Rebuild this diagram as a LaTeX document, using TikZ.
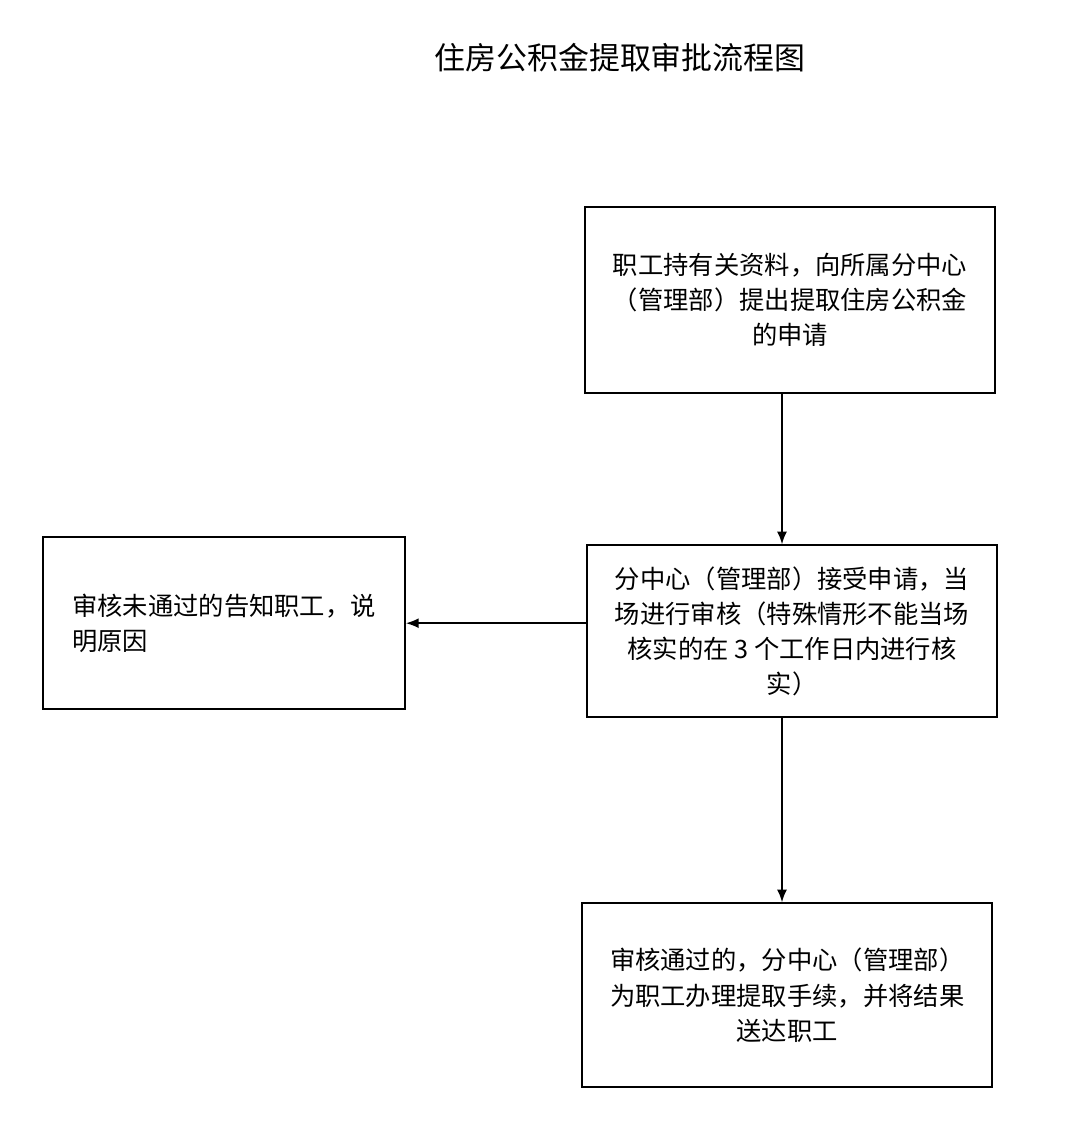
\documentclass[tikz,border=0pt]{standalone}
\usepackage{fontspec}
\setmainfont{Noto Sans CJK SC}
\usetikzlibrary{arrows.meta}

\begin{document}
\begin{tikzpicture}[thick,
    stepbox/.style={draw, rectangle, line width=1.2pt, font=\fontsize{18}{25}\selectfont},
    flow/.style={-{Latex[length=9pt,width=7pt]}, line width=1.2pt}]
    \useasboundingbox[fill=white] (0,0) rectangle (27,-28.6);

    \coordinate (T) at (15.5, -1.45);
    \coordinate (P1) at (19.75, -7.5);
    \coordinate (P2) at (19.8, -15.78);
    \coordinate (P3) at (5.6, -15.58);
    \coordinate (P4) at (19.68, -24.88);

%labels
    \node (title) at (T) {\fontsize{22}{26}\selectfont 住房公积金提取审批流程图};

    \node[stepbox, minimum width=10.25cm, minimum height=4.65cm, align=center] (apply) at (P1)
        {职工持有关资料，向所属分中心\\（管理部）提出提取住房公积金\\的申请};
    \node[stepbox, minimum width=10.25cm, minimum height=4.3cm, align=center] (check) at (P2)
        {分中心（管理部）接受申请，当\\场进行审核（特殊情形不能当场\\核实的在 3 个工作日内进行核\\实）};
    \node[stepbox, minimum width=9.05cm, minimum height=4.3cm, align=left] (reject) at (P3)
        {审核未通过的告知职工，说\\明原因};
    \node[stepbox, minimum width=10.25cm, minimum height=4.6cm, align=center] (pass) at (P4)
        {审核通过的，分中心（管理部）\\为职工办理提取手续，并将结果\\送达职工};

    \draw[flow] (apply.south -| 19.55,0) -- (check.north -| 19.55,0);
    \draw[flow] (check.south -| 19.55,0) -- (pass.north -| 19.55,0);
    \draw[flow] (check.west |- reject.east) -- (reject.east);

\end{tikzpicture}
\end{document}
